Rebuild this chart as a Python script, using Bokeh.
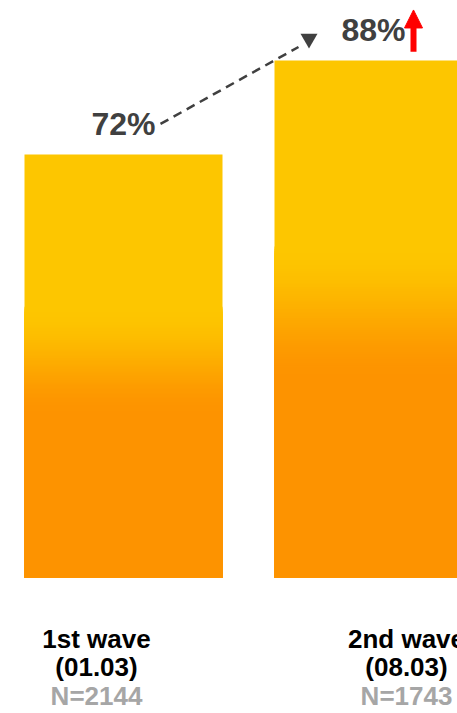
from bokeh.plotting import figure
from bokeh.models import Range1d, ColumnDataSource, Arrow, NormalHead
from bokeh.core.properties import value
from bokeh.embed import file_html
from bokeh.resources import INLINE

# ---- data ----
categories = ["1st wave", "2nd wave"]
dates = ["(01.03)", "(08.03)"]
samples = ["N=2144", "N=1743"]
shares = [72, 88]
share_labels = ["72%", "88%"]

YELLOW = (253, 198, 0)
ORANGE = (253, 147, 0)
FONT = "Liberation Sans"

p = figure(width=457, height=713, output_backend="svg", toolbar_location=None,
           x_range=Range1d(-0.492, 1.336), y_range=Range1d(-23.15, 98.21),
           min_border=0, min_border_left=0, min_border_right=0,
           min_border_top=0, min_border_bottom=0)
p.axis.visible = False
p.xgrid.visible = False
p.ygrid.visible = False
p.outline_line_color = None
p.background_fill_color = "white"
p.border_fill_color = "white"

half = 0.396
# gradient bars: overlapping quads all starting at 0, drawn tallest first
# (yellow top -> orange bottom) so no seams show between slices
left, right, bottom, top, color = [], [], [], [], []
n = 60
lo, hi = 0.38, 0.64
hexc = lambda c: "#%02x%02x%02x" % c
for i, v in enumerate(shares):
    left.append(i - half); right.append(i + half)
    bottom.append(0); top.append(v)
    color.append(hexc(YELLOW))
    for k in range(n):
        f1 = hi - (hi - lo) * k / n
        t = (k + 0.5) / n
        t = t * t * (3 - 2 * t)
        c = tuple(int(round(YELLOW[j] + (ORANGE[j] - YELLOW[j]) * t)) for j in range(3))
        left.append(i - half); right.append(i + half)
        bottom.append(0); top.append(v * f1)
        color.append(hexc(c))
    left.append(i - half); right.append(i + half)
    bottom.append(0); top.append(v * lo)
    color.append(hexc(ORANGE))

src = ColumnDataSource(dict(left=left, right=right, bottom=bottom, top=top, color=color))
p.quad(left="left", right="right", bottom="bottom", top="top", fill_color="color",
       line_color=None, source=src)

xs = list(range(len(shares)))

# value labels
p.text(x=xs, y=shares, text=share_labels, text_font=value(FONT), text_font_style="bold",
       text_font_size="32px", text_color="#404040", text_align="center",
       text_baseline="alphabetic", y_offset=-30)

# category labels (three lines)
lab_x_off = [-27, 33]
for txt, off, col in [(categories, 62, "#000000"), (dates, 90, "#000000"), (samples, 119, "#A6A6A6")]:
    p.text(x=xs, y=[0, 0], text=txt, x_offset=lab_x_off, y_offset=off,
           text_font=value(FONT), text_font_style="bold", text_font_size="26px",
           text_color=col, text_align="center", text_baseline="alphabetic")

# dashed trend arrow from first to second value
v0, v1 = shares
p.line(x=[0 + 0.148, 1 - 0.30], y=[v0 + 5.2, v1 + 2.3], line_color="#404040",
       line_width=2.5, line_dash="9 6")
p.scatter(x=[1 - 0.258], y=[v1 + 3.7], marker="inverted_triangle", size=17,
          fill_color="#404040", line_color=None)

# red up arrow
p.add_layout(Arrow(end=NormalHead(size=18, fill_color="#FF0000", line_color="#FF0000", line_width=1),
                   x_start=1.16, y_start=v1 + 1.5, x_end=1.16, y_end=v1 + 8.6,
                   line_color="#FF0000", line_width=6))

open("out.html", "w").write(file_html(p, INLINE))
